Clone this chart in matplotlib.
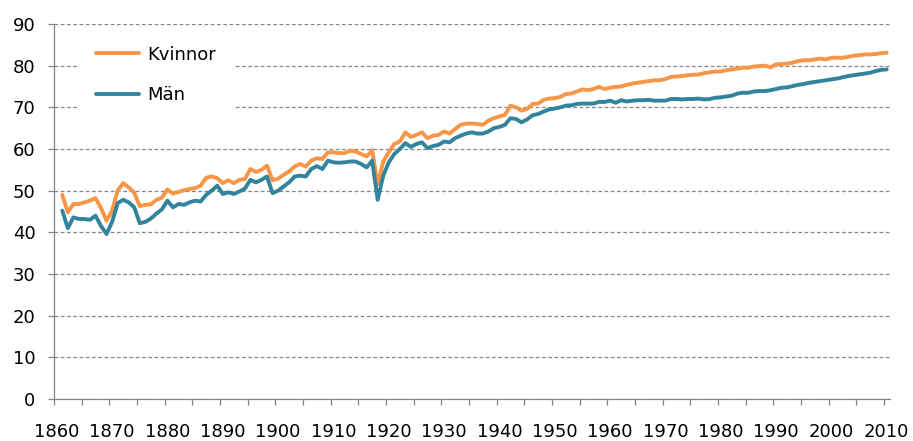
import numpy as np
import matplotlib
matplotlib.use("Agg")
import matplotlib.pyplot as plt

years = list(range(1861, 2011))

kvinnor = [
    # 1861-1880
    49.0, 44.8, 46.8, 46.8, 47.2, 47.6, 48.2, 45.8, 42.8, 45.2,
    50.0, 51.8, 50.8, 49.5, 46.3, 46.6, 46.7, 47.8, 48.3, 50.3,
    # 1881-1900
    49.3, 49.7, 50.1, 50.4, 50.6, 51.2, 53.1, 53.4, 53.0, 51.8,
    52.5, 51.8, 52.6, 52.8, 55.2, 54.5, 55.0, 56.0, 52.5, 52.9,
    # 1901-1920
    53.8, 54.6, 55.8, 56.4, 55.8, 57.2, 57.8, 57.6, 59.2, 59.2,
    59.0, 59.0, 59.6, 59.4, 58.8, 58.2, 59.7, 51.5, 57.0, 59.2,
    # 1921-1940
    61.2, 61.8, 64.0, 62.9, 63.4, 64.0, 62.6, 63.2, 63.4, 64.2,
    63.7, 64.8, 65.8, 66.1, 66.1, 66.0, 65.8, 66.8, 67.4, 67.8,
    # 1941-1960
    68.2, 70.4, 70.0, 69.2, 69.6, 70.8, 70.9, 71.8, 72.1, 72.2,
    72.5, 73.2, 73.3, 73.8, 74.3, 74.1, 74.4, 74.9, 74.4, 74.7,
    # 1961-1980
    74.9, 75.0, 75.4, 75.7, 75.9, 76.1, 76.3, 76.5, 76.5, 76.8,
    77.3, 77.4, 77.5, 77.7, 77.8, 77.9, 78.2, 78.4, 78.6, 78.6,
    # 1981-2000
    78.9, 79.1, 79.3, 79.5, 79.5, 79.8, 79.9, 80.0, 79.6, 80.3,
    80.4, 80.5, 80.7, 81.1, 81.3, 81.3, 81.5, 81.7, 81.5, 81.9,
    # 2001-2010
    81.9, 81.9, 82.1, 82.4, 82.5, 82.7, 82.7, 82.8, 83.0, 83.1,
]

man = [
    # 1861-1880
    45.2, 41.0, 43.6, 43.2, 43.2, 43.0, 44.0, 41.5, 39.6, 42.5,
    47.0, 47.8, 47.2, 46.0, 42.2, 42.5, 43.3, 44.5, 45.5, 47.6,
    # 1881-1900
    46.0, 46.8, 46.6, 47.2, 47.6, 47.4, 49.0, 50.0, 51.2, 49.2,
    49.6, 49.2, 49.8, 50.5, 52.6, 52.0, 52.6, 53.4, 49.4, 50.0,
    # 1901-1920
    51.0, 52.0, 53.4, 53.6, 53.4, 55.2, 55.9, 55.2, 57.2, 56.8,
    56.7, 56.8, 57.0, 57.0, 56.4, 55.6, 57.2, 47.8, 53.6, 56.8,
    # 1921-1940
    58.8, 60.0, 61.4, 60.5, 61.2, 61.6, 60.2, 60.7, 61.0, 61.8,
    61.6, 62.6, 63.2, 63.7, 64.0, 63.7, 63.7, 64.2, 65.0, 65.3,
    # 1941-1960
    65.8, 67.4, 67.2, 66.4, 67.1, 68.1, 68.4, 69.0, 69.5, 69.7,
    70.0, 70.4, 70.5, 70.8, 70.9, 70.9, 70.9, 71.3, 71.3, 71.6,
    # 1961-1980
    71.1, 71.7, 71.4, 71.6, 71.7, 71.7, 71.8, 71.6, 71.6, 71.6,
    72.0, 72.0, 71.9, 72.0, 72.0, 72.1, 71.9, 72.0, 72.3, 72.4,
    # 1981-2000
    72.6, 72.8, 73.3, 73.5, 73.5, 73.8, 73.9, 73.9, 74.1, 74.4,
    74.7, 74.8, 75.1, 75.4, 75.6, 75.9, 76.1, 76.3, 76.5, 76.7,
    # 2001-2010
    76.9, 77.2, 77.5, 77.7, 77.9, 78.1, 78.3, 78.7, 79.0, 79.1,
]

x_labels = list(range(1860, 2011, 10))
y_ticks = list(range(0, 91, 10))

fig = plt.figure(figsize=(9.13, 4.41), dpi=100)
ax = fig.add_axes([54 / 913, 1 - 399 / 441, (889.5 - 54) / 913, (399 - 24) / 441])

ax.plot(years, kvinnor, color="#F79646", lw=2.8, label="Kvinnor", solid_capstyle="round")
ax.plot(years, man, color="#31849B", lw=2.8, label="Män", solid_capstyle="round")

ax.set_xlim(1859.5, 2010.5)
ax.set_ylim(0, 90)

grey = "#868686"
ax.set_yticks(y_ticks)
ax.yaxis.grid(True, linestyle=(0, (3, 2)), color=grey, lw=0.9)
ax.set_axisbelow(True)

ax.set_xticks(x_labels)
ax.set_xticklabels([str(v) for v in x_labels])
ax.set_xticks(np.arange(1859.5, 2011, 5), minor=True)
ax.tick_params(axis="x", which="major", length=0, pad=17, labelsize=13)
ax.tick_params(axis="x", which="minor", length=4.3, color=grey, width=0.9)
ax.tick_params(axis="y", length=4.3, color=grey, width=0.9, pad=9, labelsize=13)

for s in ["top", "right"]:
    ax.spines[s].set_visible(False)
for s in ["left", "bottom"]:
    ax.spines[s].set_color(grey)
    ax.spines[s].set_linewidth(0.9)

leg = ax.legend(loc="upper left", bbox_to_anchor=(0.0287, 0.99), borderaxespad=0,
                frameon=True, facecolor="white", edgecolor="none", framealpha=1,
                fancybox=False, borderpad=1.0, handlelength=2.4, handletextpad=0.45,
                labelspacing=1.22, fontsize=13)

plt.savefig("out.png", dpi=100)
